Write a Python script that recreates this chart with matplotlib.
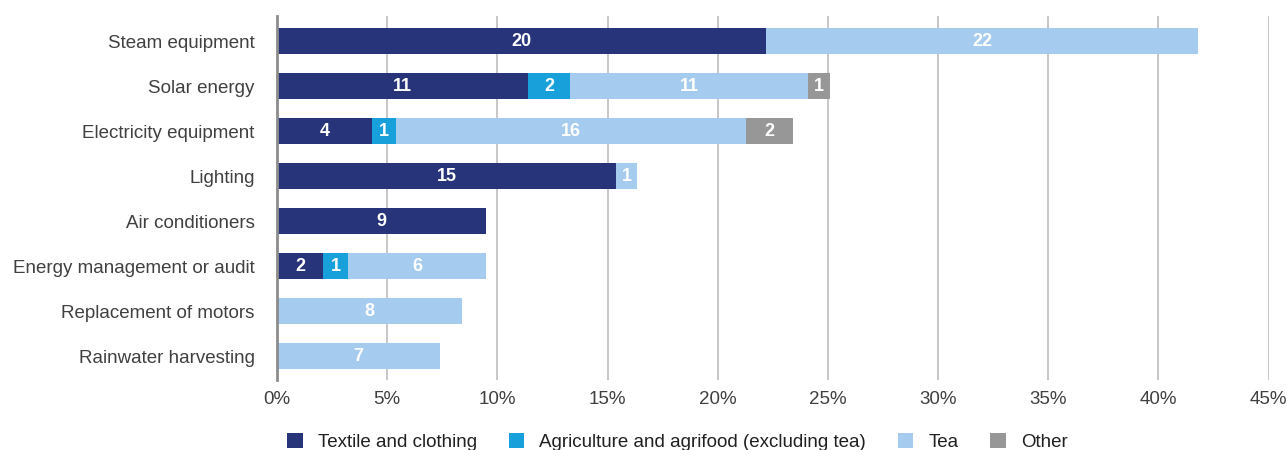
import matplotlib
matplotlib.use("Agg")
import matplotlib.pyplot as plt
from matplotlib.patches import Patch
import numpy as np

plt.rcParams['font.family'] = ['Liberation Sans', 'DejaVu Sans']

# Measures, top to bottom
measures = ['Steam equipment', 'Solar energy', 'Electricity equipment', 'Lighting',
            'Air conditioners', 'Energy management or audit',
            'Replacement of motors', 'Rainwater harvesting']

sectors = ['Textile and clothing', 'Agriculture and agrifood (excluding tea)', 'Tea', 'Other']
colors = ['#283479', '#18A0DB', '#A5CCEE', '#979797']

# Share of firms (%) per sector, bar lengths
share_textile = [22.2, 11.4, 4.3, 15.4, 9.5, 2.1, 0.0, 0.0]
share_agri = [0.0, 1.9, 1.1, 0.0, 0.0, 1.1, 0.0, 0.0]
share_tea = [19.6, 10.8, 15.9, 0.95, 0.0, 6.3, 8.4, 7.4]
share_other = [0.0, 1.0, 2.1, 0.0, 0.0, 0.0, 0.0, 0.0]

# Number of firms, printed inside the segments
count_textile = [20, 11, 4, 15, 9, 2, 0, 0]
count_agri = [0, 2, 1, 0, 0, 1, 0, 0]
count_tea = [22, 11, 16, 1, 0, 6, 8, 7]
count_other = [0, 1, 2, 0, 0, 0, 0, 0]

shares = [share_textile, share_agri, share_tea, share_other]
counts = [count_textile, count_agri, count_tea, count_other]

fig = plt.figure(figsize=(12.87, 4.5), dpi=100)
ax = fig.add_axes([277 / 1287, 1 - 380 / 450, (1268.6 - 277) / 1287, (380 - 16) / 450])

y = np.arange(len(measures))
left = np.zeros(len(measures))
for vals, cnts, col in zip(shares, counts, colors):
    vals = np.array(vals)
    ax.barh(y, vals, left=left, height=0.59, color=col, zorder=3)
    for i, (v, c) in enumerate(zip(vals, cnts)):
        if c > 0:
            ax.text(left[i] + v / 2, y[i], str(c), ha='center', va='center',
                    color='white', fontsize=13, fontweight='bold', zorder=4)
    left += vals

ax.set_xlim(0, 45)
ax.set_ylim(len(measures) - 0.47, -0.56)
ax.set_xticks(np.arange(0, 46, 5))
ax.set_xticklabels([f'{t}%' for t in range(0, 46, 5)])
ax.set_yticks(y)
ax.set_yticklabels(measures)

ax.grid(axis='x', color='#c8c6c6', linewidth=1.4, zorder=0)
for s in ['top', 'right', 'bottom']:
    ax.spines[s].set_visible(False)
ax.spines['left'].set_color('#8c8c8c')
ax.spines['left'].set_linewidth(2)
ax.spines['left'].set_zorder(5)
ax.tick_params(axis='both', length=0, labelsize=13.5, labelcolor='#404040')
ax.tick_params(axis='y', pad=16)
ax.tick_params(axis='x', pad=8)

handles = [Patch(facecolor=c, label=s) for s, c in zip(sectors, colors)]
fig.legend(handles=handles, loc='center left', bbox_to_anchor=(287 / 1287, 1 - 442 / 450),
           ncol=4, frameon=False, fontsize=13.5, handlelength=0.83, handleheight=0.83,
           handletextpad=0.8, columnspacing=1.7, borderpad=0, borderaxespad=0,
           labelcolor='#202020')

fig.savefig('out.png', dpi=100)
